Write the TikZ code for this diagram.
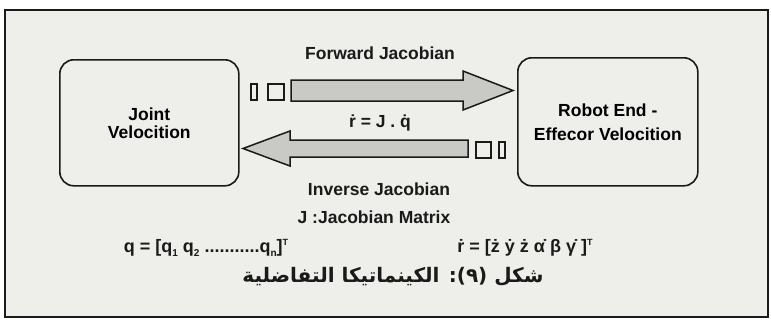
\documentclass[tikz,border=0pt]{standalone}
\usepackage{fontspec}
\setmainfont{Liberation Sans}
\newfontfamily\arabicfont[Script=Arabic]{DejaVu Sans}
\TeXXeTstate=1
\definecolor{bg}{HTML}{EEEEEA}
\definecolor{arrowfill}{HTML}{C9C9C6}
\definecolor{ink}{HTML}{1A1A1A}
\tikzset{
  velbox/.style={draw=ink, line width=1.6pt, fill=bg, rounded corners=14pt,
    align=center, inner sep=0pt, anchor=north west,
    font=\bfseries\fontsize{17.5}{18}\selectfont},
  blockarrow/.style={draw=ink, fill=arrowfill, line width=1.5pt, line join=miter},
  tick/.style={draw=ink, fill=bg, line width=1.5pt, inner sep=0pt, anchor=north west},
  lbl/.style={inner sep=0pt, text=ink, font=\bfseries\fontsize{17.5}{19}\selectfont},
  eq/.style={inner sep=0pt, text=ink, font=\bfseries\fontsize{18}{20}\selectfont},
}
\newcommand{\sbs}[1]{\raisebox{-4pt}{\fontsize{10}{10}\selectfont #1}}
\newcommand{\sps}[1]{\raisebox{7pt}{\fontsize{9}{9}\selectfont #1}}
\begin{document}
\begin{tikzpicture}[x=1pt,y=-1pt]
\useasboundingbox (0,0) rectangle (771,327);
\fill[white] (0,0) rectangle (771,327);
\fill[bg] (5,10) rectangle (768,317);
\draw[ink, line width=1.6pt] (5,10) rectangle (768,317);
\draw[ink, line width=2.6pt] (5,317) -- (768,317);

% boxes
\node[velbox, minimum width=179pt, minimum height=126pt] (joint) at (59,59)
  {Joint\\[0pt]Velocition};
\node[velbox, minimum width=180pt, minimum height=128pt] (robot) at (517,57)
  {Robot End -\\[6pt]Effecor Velocition};

% block arrows (forward: joint -> robot, inverse: robot -> joint)
\coordinate (fwdtip) at (513,90.5);
\coordinate (invtip) at (243,148.5);
\draw[blockarrow] (291,80) -- (463,80) -- (463,71) -- (fwdtip) -- (463,110)
  -- (463,101) -- (291,101) -- cycle;
\draw[blockarrow] (468,140) -- (290,140) -- (290,131) -- (invtip) -- (290,166)
  -- (290,157) -- (468,157) -- cycle;

% small squares
\node[tick, minimum width=6pt, minimum height=16pt] (f1) at (250,83) {};
\node[tick, minimum width=16pt, minimum height=16pt] (f2) at (267,83) {};
\node[tick, minimum width=15pt, minimum height=16pt] (i1) at (475,141) {};
\node[tick, minimum width=6pt, minimum height=16pt] (i2) at (498,141) {};

% labels
\node[lbl] (fwdlbl) at (380,53) {Forward Jacobian};
\node[lbl] (rel) at (380,123) {\.{r} = J . \.{q}};
\node[lbl] (invlbl) at (379,189) {Inverse Jacobian};
\node[lbl] (jlbl) at (374,217) {J :Jacobian Matrix};
\node[eq] (qeq) at (206,248) {q = [q\sbs{1} q\sbs{2} ...........q\sbs{n}]\sps{T}};
\node[eq] (req) at (525,248) {\.{r} = [\.{z} \.{y} \.{z} \.{α} β \.{γ} ]\sps{T}};
\node[inner sep=0pt, text=ink] (cap) at (393,277)
  {\arabicfont\bfseries\fontsize{20}{22}\selectfont\beginR شكل (٩): الكينماتيكا التفاضلية\endR};
\end{tikzpicture}
\end{document}
